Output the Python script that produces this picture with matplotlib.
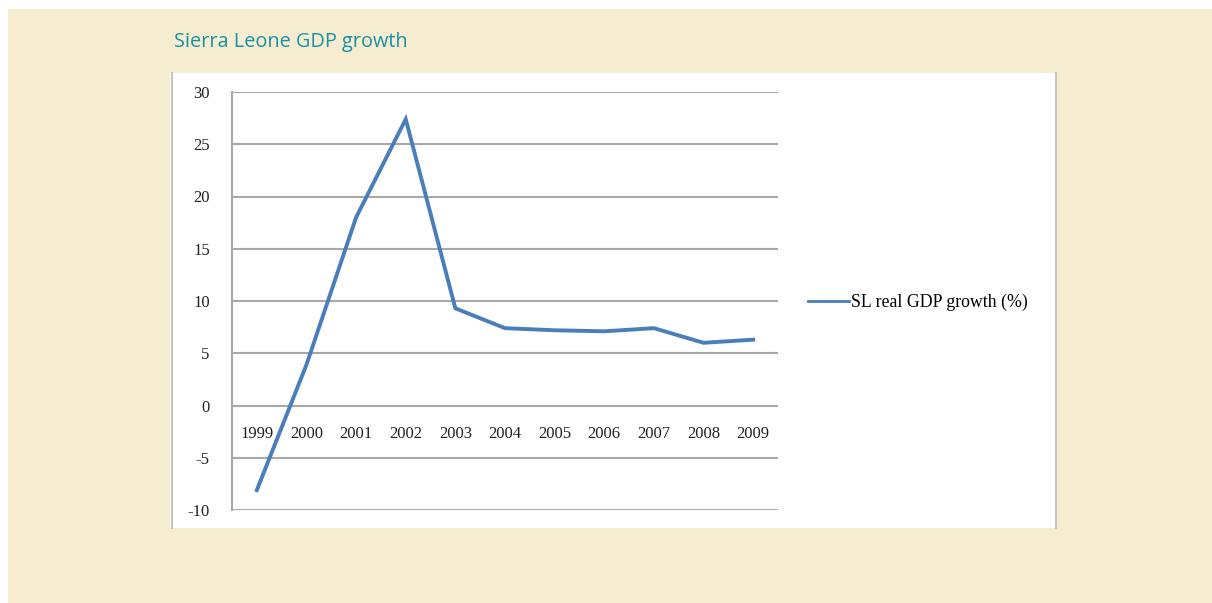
import matplotlib.pyplot as plt
from matplotlib.patches import Rectangle
from matplotlib.lines import Line2D

# Data
years = ["1999", "2000", "2001", "2002", "2003", "2004", "2005", "2006", "2007", "2008", "2009"]
gdp_growth = [-8.1, 3.9, 18.0, 27.4, 9.3, 7.4, 7.2, 7.1, 7.4, 6.0, 6.3]
y_ticks = [-10, -5, 0, 5, 10, 15, 20, 25, 30]

W, H = 1212, 603
fig = plt.figure(figsize=(W / 100, H / 100), dpi=100)
fig.patch.set_facecolor("white")

# beige page background and white chart panel
fig.add_artist(Rectangle((8 / W, 0), 1, 1 - 9 / H, transform=fig.transFigure,
                         facecolor="#f6ecd0", edgecolor="none", zorder=0))
fig.add_artist(Rectangle((170 / W, 1 - 528 / H), 887 / W, 455 / H, transform=fig.transFigure,
                         facecolor="white", edgecolor="none", zorder=0))
for xp in (172, 1056):
    fig.add_artist(Line2D([xp / W, xp / W], [1 - 528 / H, 1 - 73 / H], transform=fig.transFigure,
                          color="#c4c4c4", lw=1.5, zorder=1))

fig.text(174 / W, 1 - 42 / H, "Sierra Leone GDP growth", color="#1892a5",
         fontsize=14.3, family="Open Sans", va="center", ha="left")

ax = fig.add_axes([232 / W, 93 / H, 546 / W, 418 / H])
ax.set_facecolor("none")
x = list(range(len(years)))
line, = ax.plot(x, gdp_growth, color="#4a7ebb", lw=2.8, solid_joinstyle="miter", zorder=3)

ax.spines["bottom"].set_position(("data", 0))
ax.spines["bottom"].set_visible(False)
ax.spines["top"].set_visible(False)
ax.spines["right"].set_visible(False)
ax.spines["left"].set_color("#a8a8a8")
ax.spines["left"].set_linewidth(1.5)

ax.set_xlim(-0.5, len(years) - 0.5)
ax.set_ylim(-10, 30)
ax.set_yticks(y_ticks)
ax.set_yticklabels([str(v) for v in y_ticks])
ax.yaxis.grid(True, color="#a8a8a8", lw=1.5)
ax.set_axisbelow(True)

ax.set_xticks(x)
ax.set_xticklabels(years)
for lab in ax.get_xticklabels() + ax.get_yticklabels():
    lab.set_family("Liberation Serif")
    lab.set_fontsize(12)
    lab.set_color("#222222")
ax.tick_params(axis="x", length=0, pad=15)
ax.tick_params(axis="y", length=0, pad=16)

leg = ax.legend([line], ["SL real GDP growth (%)"], loc="center left",
                bbox_to_anchor=(1.025, 0.497), frameon=False, handlelength=2.3,
                handletextpad=0.15, prop={"family": "Liberation Serif", "size": 12.8})
leg.get_lines()[0].set_linewidth(2)

fig.savefig("out.png", dpi=100)
